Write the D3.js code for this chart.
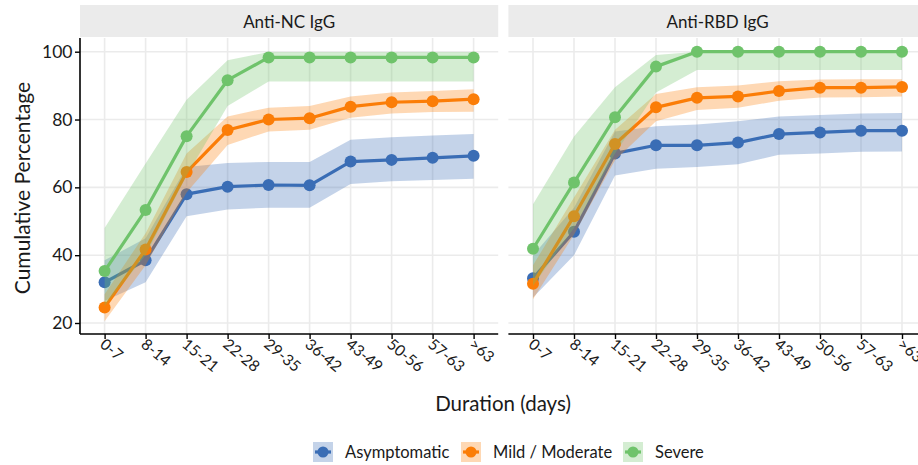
<!DOCTYPE html>
<html>
<head>
<meta charset="utf-8">
<script src="https://cdn.jsdelivr.net/npm/d3@7"></script>
<style>
  html, body { margin: 0; padding: 0; background: #fff; }
  svg { display: block; font-family: Lato, "Open Sans", sans-serif; }
</style>
</head>
<body>
<svg id="chart" width="918" height="465"></svg>
<script>
// ---------- data ----------
const categories = ["0-7","8-14","15-21","22-28","29-35","36-42","43-49","50-56","57-63",">63"];
const panels = ["Anti-NC IgG", "Anti-RBD IgG"];
const groups = ["Asymptomatic", "Mild / Moderate", "Severe"];
const yTicks = [20, 40, 60, 80, 100];

// Anti-NC IgG
const ncAsym      = [32.0, 38.5, 58.0, 60.2, 60.7, 60.6, 67.6, 68.1, 68.7, 69.3];
const ncAsymLo    = [26.5, 32.0, 51.5, 53.5, 54.0, 54.0, 61.0, 61.8, 62.2, 62.5];
const ncAsymHi    = [38.5, 45.0, 66.0, 67.2, 67.5, 67.5, 74.0, 74.8, 75.3, 75.7];
const ncMild      = [24.6, 41.7, 64.5, 76.9, 80.0, 80.4, 83.8, 85.1, 85.4, 86.0];
const ncMildLo    = [20.5, 37.0, 58.5, 72.5, 76.5, 77.0, 80.5, 81.8, 82.2, 82.3];
const ncMildHi    = [28.5, 46.5, 70.0, 80.9, 83.5, 84.0, 86.8, 88.0, 88.4, 88.9];
const ncSev       = [35.3, 53.3, 75.1, 91.6, 98.3, 98.3, 98.3, 98.3, 98.3, 98.3];
const ncSevLo     = [25.0, 40.0, 63.5, 84.0, 91.2, 91.2, 91.2, 91.2, 91.2, 91.2];
const ncSevHi     = [48.0, 67.0, 85.8, 97.5, 99.9, 99.9, 99.9, 99.9, 99.9, 99.9];

// Anti-RBD IgG
const rbdAsym     = [33.2, 46.9, 70.0, 72.4, 72.4, 73.2, 75.7, 76.2, 76.7, 76.7];
const rbdAsymLo   = [27.5, 40.0, 63.5, 65.5, 66.0, 66.8, 69.6, 70.0, 70.5, 70.6];
const rbdAsymHi   = [40.0, 54.0, 76.5, 78.0, 78.5, 79.5, 80.9, 81.3, 81.8, 81.9];
const rbdMild     = [31.6, 51.5, 72.8, 83.6, 86.4, 86.8, 88.4, 89.4, 89.4, 89.6];
const rbdMildLo   = [27.0, 46.0, 68.0, 79.5, 82.8, 83.5, 85.5, 86.5, 86.6, 86.8];
const rbdMildHi   = [37.0, 57.0, 77.0, 87.5, 89.5, 90.0, 91.3, 91.8, 91.9, 91.9];
const rbdSev      = [41.9, 61.4, 80.7, 95.6, 100, 100, 100, 100, 100, 100];
const rbdSevLo    = [31.0, 48.0, 70.0, 88.0, 94.6, 94.6, 94.6, 94.6, 94.6, 94.6];
const rbdSevHi    = [55.0, 75.0, 89.5, 99.0, 100, 100, 100, 100, 100, 100];

const colors = ["#3a6db5", "#fb7d07", "#6fc36b"];

const panelData = [
  [ {v: ncAsym, lo: ncAsymLo, hi: ncAsymHi},
    {v: ncMild, lo: ncMildLo, hi: ncMildHi},
    {v: ncSev,  lo: ncSevLo,  hi: ncSevHi} ],
  [ {v: rbdAsym, lo: rbdAsymLo, hi: rbdAsymHi},
    {v: rbdMild, lo: rbdMildLo, hi: rbdMildHi},
    {v: rbdSev,  lo: rbdSevLo,  hi: rbdSevHi} ]
];

// ---------- layout ----------
const svg = d3.select("#chart");
const panelTop = 38, panelBottom = 334;
const panelLefts = [80, 508.4];
const panelWidth = 418.2;
const stripTop = 5;

const y = d3.scaleLinear().domain([20, 100]).range([323, 51.7]);

panels.forEach((title, pi) => {
  const left = panelLefts[pi];
  const x = d3.scalePoint().domain(categories)
    .range([left + 0.6 * panelWidth / 10.2, left + panelWidth - 0.6 * panelWidth / 10.2]);

  const g = svg.append("g");

  // strip
  g.append("rect").attr("x", left).attr("y", stripTop)
    .attr("width", panelWidth).attr("height", panelTop - stripTop - 1)
    .attr("fill", "#ebebeb");
  g.append("text").attr("x", left + panelWidth / 2).attr("y", 28)
    .attr("text-anchor", "middle").attr("font-size", 17).attr("fill", "#1a1a1a")
    .text(title);

  // grid
  g.selectAll(".hg").data(yTicks).join("line")
    .attr("x1", left).attr("x2", left + panelWidth)
    .attr("y1", d => y(d)).attr("y2", d => y(d))
    .attr("stroke", "#ebebeb").attr("stroke-width", 1.6);
  g.selectAll(".vg").data(categories).join("line")
    .attr("x1", d => x(d)).attr("x2", d => x(d))
    .attr("y1", panelTop).attr("y2", panelBottom)
    .attr("stroke", "#ebebeb").attr("stroke-width", 1.6);

  // series
  const area = d3.area().x((d, i) => x(categories[i])).y0(d => y(d[0])).y1(d => y(d[1]));
  const line = d3.line().x((d, i) => x(categories[i])).y(d => y(d));

  panelData[pi].forEach((s, gi) => {
    const band = s.lo.map((lo, i) => [lo, s.hi[i]]);
    g.append("path").attr("d", area(band)).attr("fill", colors[gi]).attr("fill-opacity", 0.3);
    g.append("path").attr("d", line(s.v)).attr("fill", "none")
      .attr("stroke", colors[gi]).attr("stroke-width", 3.2).attr("stroke-linejoin", "round");
    g.selectAll(null).data(s.v).join("circle")
      .attr("cx", (d, i) => x(categories[i])).attr("cy", d => y(d))
      .attr("r", 6).attr("fill", colors[gi]);
  });

  // x axis
  const xAxis = g.append("g").attr("transform", `translate(0,${panelBottom})`)
    .call(d3.axisBottom(x).tickSize(5).tickSizeOuter(0).tickPadding(4));
  xAxis.select(".domain").attr("d", `M${left},0H${left + panelWidth}`)
    .attr("stroke", "#000").attr("stroke-width", 1.6);
  xAxis.selectAll(".tick line").attr("stroke", "#000").attr("stroke-width", 1.4);
  xAxis.selectAll(".tick text")
    .attr("font-size", 15.5).attr("fill", "#1a1a1a").attr("font-family", "Lato, sans-serif")
    .attr("text-anchor", "start").attr("dy", null).attr("y", 0)
    .attr("transform", "translate(-6,12) rotate(40)");

  // y axis (left panel only)
  if (pi === 0) {
    const yAxis = g.append("g").attr("transform", `translate(${left},0)`)
      .call(d3.axisLeft(y).tickValues(yTicks).tickSize(5).tickPadding(2.5));
    yAxis.select(".domain").attr("d", `M0,${panelTop}V${panelBottom}`)
      .attr("stroke", "#000").attr("stroke-width", 1.6);
    yAxis.selectAll(".tick line").attr("stroke", "#000").attr("stroke-width", 1.4);
    yAxis.selectAll(".tick text").attr("font-size", 17.5).attr("fill", "#1a1a1a")
      .attr("font-family", "Lato, sans-serif");
  }
});

// axis titles
svg.append("text").attr("x", 503).attr("y", 411).attr("text-anchor", "middle")
  .attr("font-size", 20.5).attr("fill", "#1a1a1a").text("Duration (days)");
svg.append("text").attr("transform", "translate(30,188) rotate(-90)")
  .attr("text-anchor", "middle").attr("font-size", 21).attr("fill", "#1a1a1a")
  .text("Cumulative Percentage");

// legend
const legendX = [313, 461, 623];
groups.forEach((name, gi) => {
  const lg = svg.append("g").attr("transform", `translate(${legendX[gi]},442)`);
  lg.append("rect").attr("width", 20).attr("height", 20)
    .attr("fill", colors[gi]).attr("fill-opacity", 0.3);
  lg.append("line").attr("x1", 2).attr("x2", 18).attr("y1", 10).attr("y2", 10)
    .attr("stroke", colors[gi]).attr("stroke-width", 3.2);
  lg.append("circle").attr("cx", 10).attr("cy", 10).attr("r", 5.5).attr("fill", colors[gi]);
  lg.append("text").attr("x", 32).attr("y", 16).attr("font-size", 16.5)
    .attr("fill", "#1a1a1a").text(name);
});
</script>
</body>
</html>
